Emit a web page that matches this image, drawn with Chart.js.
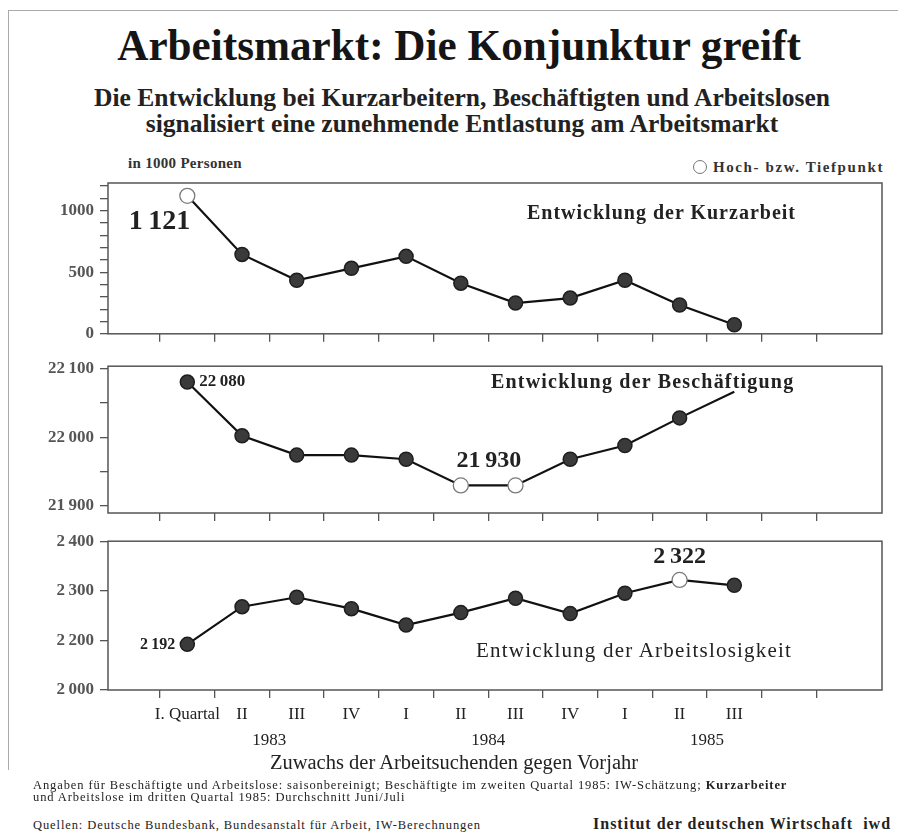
<!DOCTYPE html>
<html><head><meta charset="utf-8">
<script src="https://cdn.jsdelivr.net/npm/chart.js@4.4.1/dist/chart.umd.min.js"></script>
<style>
html,body{margin:0;padding:0;background:#fff;}
#wrap{position:relative;width:898px;height:837px;overflow:hidden;font-family:'Liberation Serif','Times New Roman',serif;color:#1a1a1a;}
.abs{position:absolute;white-space:nowrap;}
canvas{position:absolute;left:0;}
</style></head><body>
<div id="wrap">
  <div class="abs" style="left:8px;top:10px;width:890px;height:0;border-top:1px solid #aaa;"></div>
  <div class="abs" style="left:8px;top:10px;width:0;height:760px;border-left:1px solid #aaa;"></div>

  <div class="abs" style="left:0;width:918px;top:18px;text-align:center;font-size:45px;font-weight:bold;line-height:54px;color:#151515;transform:scaleX(0.96);transform-origin:459px 0;">Arbeitsmarkt: Die Konjunktur greift</div>
  <div class="abs" style="left:0;width:924px;top:85px;text-align:center;font-size:25.5px;font-weight:bold;line-height:26px;color:#222;">Die Entwicklung bei Kurzarbeitern, Beschäftigten und Arbeitslosen<br>signalisiert eine zunehmende Entlastung am Arbeitsmarkt</div>

  <div class="abs" style="left:128px;top:154px;font-size:15px;font-weight:bold;line-height:18px;color:#333;letter-spacing:0.3px;">in 1000 Personen</div>
  <div class="abs" style="right:14px;top:158px;font-size:15px;font-weight:bold;line-height:18px;color:#333;letter-spacing:1.6px;"><span style="display:inline-block;width:12px;height:12px;border:1.3px solid #777;border-radius:50%;vertical-align:-2px;margin-right:6px;background:#fff;"></span>Hoch- bzw. Tiefpunkt</div>

  <canvas id="c1" width="898" height="190" style="top:160px;width:898px;height:190px;"></canvas>
  <canvas id="c2" width="898" height="180" style="top:350px;width:898px;height:180px;"></canvas>
  <canvas id="c3" width="898" height="225" style="top:525px;width:898px;height:225px;"></canvas>

  <div class="abs" style="left:527px;top:200px;font-size:20px;font-weight:bold;line-height:24px;color:#222;letter-spacing:1px;">Entwicklung der Kurzarbeit</div>
  <div class="abs" style="left:491px;top:369px;font-size:20px;font-weight:bold;line-height:24px;color:#222;letter-spacing:1.2px;">Entwicklung der Beschäftigung</div>
  <div class="abs" style="left:476px;top:638px;font-size:21px;line-height:24px;color:#222;letter-spacing:1.2px;">Entwicklung der Arbeitslosigkeit</div>

  <div class="abs" style="left:0;width:908px;top:750px;text-align:center;font-size:20.5px;line-height:24px;color:#222;">Zuwachs der Arbeitsuchenden gegen Vorjahr</div>

  <div class="abs" style="left:33px;top:779px;font-size:12.5px;line-height:12px;color:#222;letter-spacing:0.9px;">Angaben für Beschäftigte und Arbeitslose: saisonbereinigt; Beschäftigte im zweiten Quartal 1985: IW-Schätzung; <b>Kurzarbeiter</b><br>und Arbeitslose im dritten Quartal 1985: Durchschnitt Juni/Juli</div>
  <div class="abs" style="left:33px;top:819px;font-size:12.5px;line-height:12px;color:#222;letter-spacing:0.9px;">Quellen: Deutsche Bundesbank, Bundesanstalt für Arbeit, IW-Berechnungen</div>
  <div class="abs" style="left:593px;top:815px;font-size:16px;font-weight:bold;line-height:18px;color:#222;letter-spacing:1px;">Institut der deutschen Wirtschaft&nbsp; iwd</div>
</div>
<script>
// ---- data ----
const quarters = ['I. Quartal','II','III','IV','I','II','III','IV','I','II','III'];
const years = ['1983','1984','1985'];
const yearAt = [1.5, 5.5, 9.5];
const kurzarbeit = [1121, 645, 435, 532, 629, 411, 250, 290, 435, 234, 73];
const beschaeftigte = [22080, 22002, 21974, 21974, 21968, 21930, 21930, 21968, 21988, 22028, 22066];
const arbeitslose = [2192, 2268, 2287, 2264, 2231, 2256, 2285, 2254, 2295, 2322, 2311];
const kurzExtreme = [0];
const beschExtreme = [5, 6];
const arbExtreme = [9];
const beschNoMarker = [10];
const yTicks1 = [0,100,200,300,400,500,600,700,800,900,1000,1100,1200];
const yLabels1 = ['0','','','','','500','','','','','1000','',''];
const yTicks2 = [21900,21950,22000,22050,22100];
const yLabels2 = ['21\u2009900','','22\u2009000','','22\u2009100'];
const yTicks3 = [2100,2200,2300,2400];
const yLabels3 = ['2\u2009000','2\u2009200','2\u2009300','2\u2009400'];
const xMarks = [-0.5,0.5,1.5,2.5,3.5,4.5,5.5,6.5,7.5,8.5,9.5,10.5,11.5];

// ---- helpers ----
const SERIF = "'Liberation Serif','Times New Roman',serif";
function fmt(v){ return String(v).replace(/\B(?=(\d{3})+(?!\d))/g, '\u2009'); }

function makeNotesPlugin(values, items) {
  return {
    id: 'notes',
    afterDatasetsDraw(chart) {
      const ctx = chart.ctx;
      const xs = chart.scales.x, ys = chart.scales.y;
      items.forEach(it => {
        const px = xs.getPixelForValue(it.idx) + it.dx;
        const py = ys.getPixelForValue(values[it.idx]) + it.dy;
        ctx.save();
        ctx.font = it.font;
        ctx.fillStyle = '#222';
        ctx.textAlign = it.align;
        ctx.textBaseline = 'middle';
        ctx.fillText(fmt(values[it.idx]), px, py);
        ctx.restore();
      });
    }
  };
}
const boxPlugin = {
  id: 'box',
  beforeDatasetsDraw(chart) {
    const a = chart.chartArea, ctx = chart.ctx;
    ctx.save();
    ctx.strokeStyle = '#555';
    ctx.lineWidth = 1.5;
    ctx.strokeRect(a.left, a.top, a.right - a.left, a.bottom - a.top);
    ctx.restore();
  }
};

function makePanel(id, values, extremes, noMarker, yMin, yMax, yTicks, yLabels, pad, xHeight, isLast, notes) {
  const pts = values.map((v, i) => ({x: i, y: v}));
  const xTickList = isLast
    ? (() => { const a = []; for (let v = -0.5; v <= 11.5; v += 0.5) a.push(v); return a; })()
    : xMarks;
  new Chart(document.getElementById(id), {
    type: 'line',
    data: { datasets: [{
      data: pts,
      borderColor: '#111',
      borderWidth: 2.2,
      tension: 0,
      clip: false,
      pointRadius: values.map((v, i) => noMarker.includes(i) ? 0 : (extremes.includes(i) ? 7.5 : 7)),
      pointBackgroundColor: values.map((v, i) => extremes.includes(i) ? '#ffffff' : '#3a3a3a'),
      pointBorderColor: values.map((v, i) => extremes.includes(i) ? '#7a7a7a' : '#1e1e1e'),
      pointBorderWidth: values.map((v, i) => extremes.includes(i) ? 1.3 : 1.5)
    }]},
    options: {
      responsive: false,
      devicePixelRatio: 1,
      animation: false,
      events: [],
      layout: { padding: pad },
      plugins: { legend: {display: false}, tooltip: {enabled: false} },
      scales: {
        x: {
          type: 'linear', min: -1.45, max: 12.7,
          afterBuildTicks: s => { s.ticks = xTickList.map(v => ({value: v})); },
          afterFit: s => { s.height = xHeight; },
          border: { display: false },
          grid: {
            drawOnChartArea: false, tickLength: 8, lineWidth: 1.3,
            color: '#555',
            tickColor: c => (isLast && c.tick && Number.isInteger(c.tick.value)) ? 'rgba(0,0,0,0)' : '#555'
          },
          ticks: {
            display: isLast, autoSkip: false, maxRotation: 0, padding: 4,
            color: '#222',
            font: { family: SERIF, size: 17, lineHeight: 1.5 },
            callback: v => {
              if (Number.isInteger(v) && v >= 0 && v < quarters.length) return quarters[v];
              const k = yearAt.indexOf(v);
              if (k >= 0) return ['', years[k]];
              return '';
            }
          }
        },
        y: {
          min: yMin, max: yMax,
          afterBuildTicks: s => { s.ticks = yTicks.map(v => ({value: v})); },
          afterFit: s => { s.width = 108; },
          border: { display: false },
          grid: { drawOnChartArea: false, tickLength: 8, color: '#555', lineWidth: 1.3 },
          ticks: {
            autoSkip: false,
            padding: 6, color: '#555',
            font: { family: SERIF, size: 17, weight: 'bold' },
            callback: (v, i) => yLabels[i]
          }
        }
      }
    },
    plugins: [boxPlugin, makeNotesPlugin(values, notes)]
  });
}

makePanel('c1', kurzarbeit, kurzExtreme, [], 0, 1225, yTicks1, yLabels1,
  {left: 0, right: 16, top: 23, bottom: 5}, 10, false,
  [{idx: 0, dx: 3, dy: 26, align: 'right', font: "bold 28px " + SERIF}]);
makePanel('c2', beschaeftigte, beschExtreme, beschNoMarker, 21890, 22103, yTicks2, yLabels2,
  {left: 0, right: 16, top: 13, bottom: 5}, 12, false,
  [{idx: 0, dx: 12, dy: 0, align: 'left', font: "bold 17px " + SERIF},
   {idx: 5, dx: 28, dy: -25, align: 'center', font: "bold 24px " + SERIF}]);
makePanel('c3', arbeitslose, arbExtreme, [], 2100, 2400, yTicks3, yLabels3,
  {left: 0, right: 16, top: 12, bottom: 0}, 60, true,
  [{idx: 0, dx: -12, dy: 0, align: 'right', font: "bold 16px " + SERIF},
   {idx: 9, dx: 0, dy: -23, align: 'center', font: "bold 24px " + SERIF}]);
</script>
</body></html>
